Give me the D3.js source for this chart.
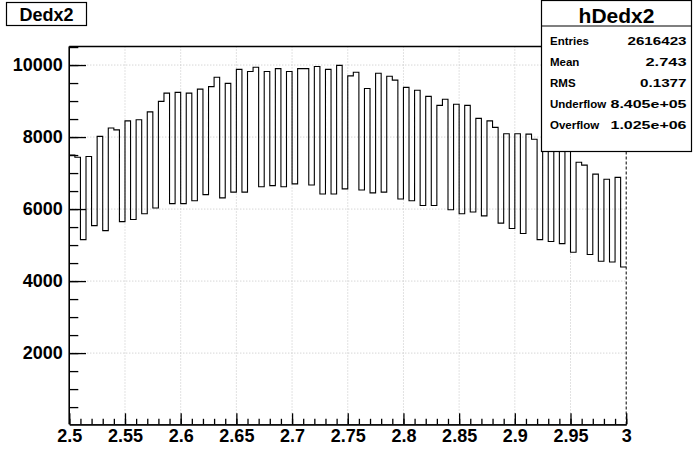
<!DOCTYPE html>
<html><head><meta charset="utf-8">
<script src="https://cdn.jsdelivr.net/npm/d3@7"></script>
<style>
body{margin:0;background:#fff;}
text{font-family:"Liberation Sans",Arial,Helvetica,sans-serif;font-weight:bold;fill:#000;}
</style></head>
<body>
<svg id="c" width="696" height="472"></svg>
<script>
// ---- data ----
const xMin = 2.5, xMax = 3.0, nBins = 100;
const binValues = [
 7500,7440,5150,7460,5540,8020,5400,8250,8200,5650,
 8450,5710,8480,5870,8700,6030,8990,9220,6150,9240,
 6150,9220,6230,9330,6400,9400,9660,6310,9490,6470,
 9880,6470,9820,9940,6620,9820,6650,9900,6620,9820,
 6700,9900,9900,6670,9960,6420,9880,6420,9990,6560,
 9700,9800,6530,9350,6450,9770,6470,9690,9580,6280,
 9380,6230,9300,6100,9130,6100,8880,9050,5980,8910,
 5870,8880,5920,8520,5810,8450,8270,5610,8090,5460,
 8090,5320,8080,7940,5150,7900,5100,7780,5040,7650,
 4800,7300,7220,4740,6970,4550,6830,4530,6880,4390];
const xTicks = [2.5,2.55,2.6,2.65,2.7,2.75,2.8,2.85,2.9,2.95,3];
const xTickLabels = ["2.5","2.55","2.6","2.65","2.7","2.75","2.8","2.85","2.9","2.95","3"];
const yTicks = [2000,4000,6000,8000,10000];
const yTickLabels = ["2000","4000","6000","8000","10000"];
const yMax = 10515;
const titleText = "Dedx2";
const statsTitle = "hDedx2";
const statsLabels = ["Entries","Mean","RMS","Underflow","Overflow"];
const statsValues = ["2616423","2.743","0.1377","8.405e+05","1.025e+06"];
const statsValueWidths = [59, 41, 46.5, 76, 76];

// ---- layout ----
const L = 69.3, R = 626.2, T = 46.5, B = 424.3;
const svg = d3.select("#c");
const x = d3.scaleLinear().domain([xMin, xMax]).range([L, R]);
const y = d3.scaleLinear().domain([0, yMax]).range([B + 0.8, T]);

// grid
const grid = svg.append("g").attr("stroke","#c4c4c4").attr("stroke-dasharray","1,2").attr("stroke-width",1);
xTicks.slice(1,-1).forEach(v => grid.append("line").attr("x1",x(v)).attr("x2",x(v)).attr("y1",T).attr("y2",B));
yTicks.forEach(v => grid.append("line").attr("x1",L).attr("x2",R).attr("y1",y(v)).attr("y2",y(v)));

// histogram step line
const bw = (xMax - xMin) / nBins;
let p = d3.path();
binValues.forEach((v, i) => {
  const x0 = x(xMin + i * bw), x1 = x(xMin + (i + 1) * bw);
  if (i === 0) p.moveTo(x0, y(v)); else p.lineTo(x0, y(v));
  p.lineTo(x1, y(v));
});
svg.append("path").attr("d", p.toString()).attr("fill","none").attr("stroke","#000").attr("stroke-width",1.1);

// frame top and right (dashed)
svg.append("line").attr("x1",L).attr("x2",R).attr("y1",T).attr("y2",T).attr("stroke","#000").attr("stroke-width",1.3);
svg.append("line").attr("x1",R).attr("x2",R).attr("y1",T).attr("y2",B).attr("stroke","#000").attr("stroke-width",1).attr("stroke-dasharray","3,2");

// x axis
const xMinor = d3.range(0, 51).map(i => xMin + i * 0.01);
const gxm = svg.append("g").attr("transform",`translate(0,${B})`)
  .call(d3.axisBottom(x).tickValues(xMinor).tickSizeInner(-5.5).tickSizeOuter(0).tickFormat(""));
const gx = svg.append("g").attr("transform",`translate(0,${B})`)
  .call(d3.axisBottom(x).tickValues(xTicks).tickSizeInner(-11).tickSizeOuter(0).tickPadding(5)
  .tickFormat((d,i) => xTickLabels[i]));
gx.selectAll("text").style("font-size","18px");
[gx,gxm].forEach(g => { g.select(".domain").attr("stroke","#000").attr("stroke-width",1.3); g.selectAll("line").attr("stroke","#000").attr("stroke-width",1.3); });

// y axis
const yMinor = d3.range(1, 22).map(i => i * 500).filter(v => v <= yMax);
const gym = svg.append("g").attr("transform",`translate(${L},0)`)
  .call(d3.axisLeft(y).tickValues(yMinor).tickSizeInner(-9).tickSizeOuter(0).tickFormat(""));
const gy = svg.append("g").attr("transform",`translate(${L},0)`)
  .call(d3.axisLeft(y).tickValues(yTicks).tickSizeInner(-16.7).tickSizeOuter(0).tickPadding(6.6)
  .tickFormat((d,i) => yTickLabels[i]));
gy.selectAll("text").style("font-size","18px");
[gy,gym].forEach(g => { g.select(".domain").attr("stroke","#000").attr("stroke-width",1.3).attr("d",`M0,${T}V${B}`); g.selectAll("line").attr("stroke","#000").attr("stroke-width",1.3); });

// title box
svg.append("rect").attr("x",6.5).attr("y",2.5).attr("width",80).attr("height",23).attr("fill","#fff").attr("stroke","#000").attr("stroke-width",1.2);
svg.append("text").attr("x",46.5).attr("y",20.7).attr("text-anchor","middle").style("font-size","18px").text(titleText);

// stats box
const sx = 541.5, sy = 0.5, sw = 150, sh = 151;
svg.append("rect").attr("x",sx).attr("y",sy).attr("width",sw).attr("height",sh).attr("fill","#fff").attr("stroke","#000").attr("stroke-width",1.2);
svg.append("line").attr("x1",sx).attr("x2",sx+sw).attr("y1",26).attr("y2",26).attr("stroke","#000").attr("stroke-width",1.2);
svg.append("text").attr("x",sx+sw/2).attr("y",22.6).attr("text-anchor","middle").style("font-size","21px").text(statsTitle);
statsLabels.forEach((lab, i) => {
  const by = 45 + i * 21.1;
  svg.append("text").attr("x",550).attr("y",by).style("font-size","11.5px").text(lab);
  const w = statsValueWidths[i];
  svg.append("text").attr("x",686.5 - w).attr("y",by).style("font-size","11.5px")
    .attr("textLength", w).attr("lengthAdjust","spacingAndGlyphs").text(statsValues[i]);
});
</script>
</body></html>
